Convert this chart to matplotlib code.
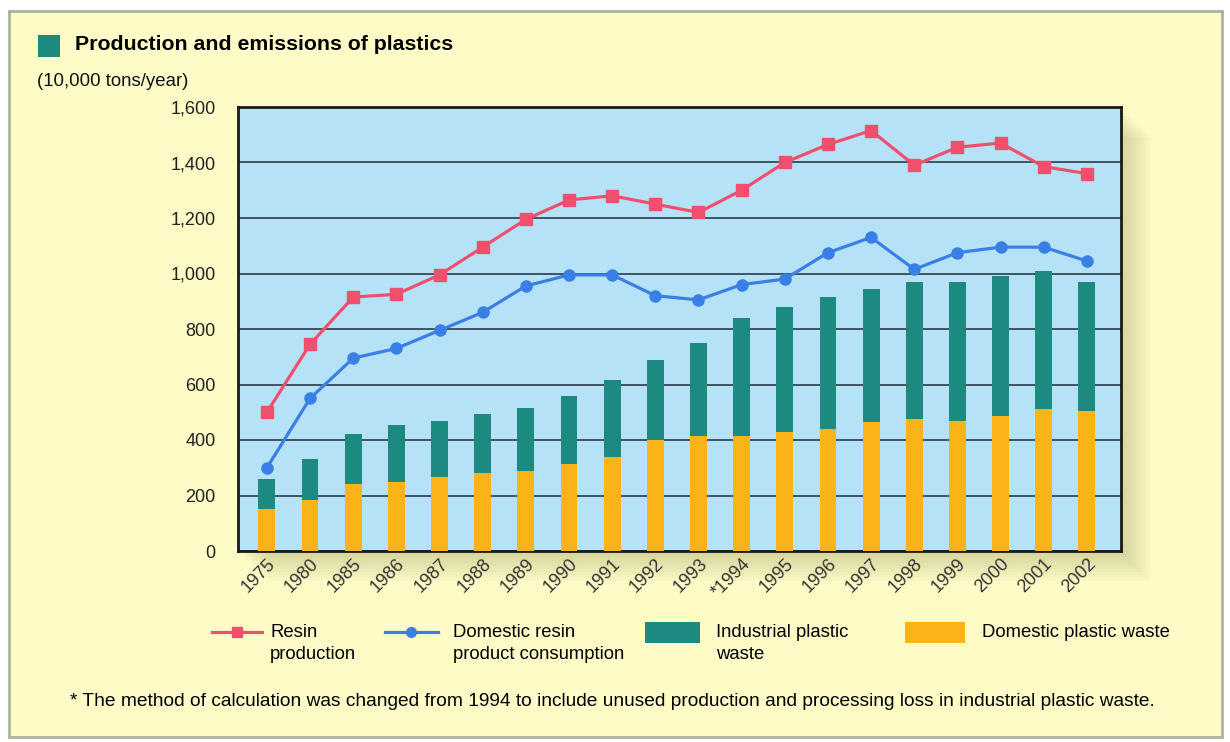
import matplotlib
matplotlib.use("Agg")
import matplotlib.pyplot as plt
from matplotlib.patches import Rectangle
from matplotlib.lines import Line2D

plt.rcParams["font.family"] = ["Liberation Sans", "DejaVu Sans"]

years = ["1975", "1980", "1985", "1986", "1987", "1988", "1989", "1990", "1991",
         "1992", "1993", "*1994", "1995", "1996", "1997", "1998", "1999", "2000",
         "2001", "2002"]
resin_production = [500, 745, 915, 925, 995, 1095, 1195, 1265, 1280, 1250, 1220,
                    1300, 1400, 1465, 1515, 1390, 1455, 1470, 1385, 1360]
domestic_consumption = [300, 550, 695, 730, 795, 860, 955, 995, 995, 920, 905,
                        960, 980, 1075, 1130, 1015, 1075, 1095, 1095, 1045]
domestic_waste = [150, 185, 240, 250, 265, 280, 290, 315, 340, 400, 415, 415,
                  430, 440, 465, 475, 470, 485, 510, 505]
total_waste = [260, 330, 420, 455, 470, 495, 515, 560, 615, 690, 750, 840,
               880, 915, 945, 970, 970, 990, 1010, 970]
industrial_waste = [t - d for t, d in zip(total_waste, domestic_waste)]
yticks = [0, 200, 400, 600, 800, 1000, 1200, 1400, 1600]

PAGE = "#fefbc6"
BORDER = "#a9b49c"
AX_BG = "#b6e2f7"
TEAL = "#1d8a80"
ORANGE = "#fbb418"
PINK = "#f0506e"
BLUE = "#3a7fe6"
GRID = "#2b3a48"

W, H = 1230, 742


def fx(x):
    return x / W


def fy(y):
    return 1 - y / H


fig = plt.figure(figsize=(12.3, 7.42), dpi=100)
fig.patch.set_facecolor("white")

# page panel with thin border
fig.add_artist(Rectangle((fx(9), fy(737)), fx(1222) - fx(9), fy(11) - fy(737),
                         transform=fig.transFigure, facecolor=PAGE,
                         edgecolor=BORDER, linewidth=2, zorder=-2))

# soft shadow right/bottom of the plot box (kept below the axes)
for i in range(10):
    off = 3 * (i + 1)
    fig.add_artist(Rectangle((fx(238 + off), fy(551 + off)), fx(883), 444 / H,
                             transform=fig.transFigure, facecolor="#8a8a50",
                             edgecolor="none", alpha=0.035, zorder=-1))

ax = fig.add_axes([fx(238), fy(551), fx(1121) - fx(238), (551 - 107) / H])
ax.set_zorder(1)
ax.set_facecolor(AX_BG)
x = list(range(len(years)))

ax.bar(x, domestic_waste, width=0.39, color=ORANGE, zorder=3)
ax.bar(x, industrial_waste, width=0.39, bottom=domestic_waste, color=TEAL, zorder=3)
ax.plot(x, resin_production, color=PINK, lw=2.3, marker="s", ms=8, zorder=4)
ax.plot(x, domestic_consumption, color=BLUE, lw=2.3, marker="o", ms=8, zorder=4)

ax.set_xlim(-0.67, 19.79)
ax.set_ylim(0, 1600)
ax.set_yticks(yticks)
ax.set_yticklabels([f"{v:,}" for v in yticks], fontsize=13, color="#222222")
ax.set_xticks(x)
ax.set_xticklabels(years, rotation=45, ha="right", rotation_mode="anchor",
                   fontsize=13, color="#333333")
ax.tick_params(length=0)
ax.tick_params(axis="y", pad=16)
ax.tick_params(axis="x", pad=3)
ax.grid(axis="y", color=GRID, lw=1.2, zorder=1)
for s in ax.spines.values():
    s.set_linewidth(2)
    s.set_color("#1a1a1a")

# title and unit
fig.add_artist(Rectangle((fx(38), fy(57)), fx(22), 22 / H,
                         transform=fig.transFigure, facecolor=TEAL,
                         edgecolor="none"))
fig.text(fx(75), fy(45), "Production and emissions of plastics",
         fontsize=15.3, fontweight="bold", va="center", ha="left")
fig.text(fx(37), fy(81), "(10,000 tons/year)", fontsize=13.4, va="center",
         ha="left", color="#111111")

# legend drawn by hand
fig.add_artist(Line2D([fx(212), fx(237), fx(262)], [fy(632)] * 3, color=PINK,
                      lw=2.3, marker="s", ms=7, markevery=[1],
                      transform=fig.transFigure))
fig.add_artist(Line2D([fx(385), fx(411), fx(438)], [fy(632)] * 3, color=BLUE,
                      lw=2.3, marker="o", ms=7, markevery=[1],
                      transform=fig.transFigure))
fig.add_artist(Rectangle((fx(645), fy(643)), fx(55), 21 / H,
                         transform=fig.transFigure, facecolor=TEAL,
                         edgecolor="none"))
fig.add_artist(Rectangle((fx(905), fy(643)), fx(60), 21 / H,
                         transform=fig.transFigure, facecolor=ORANGE,
                         edgecolor="none"))
leg_kw = dict(fontsize=13.3, va="top", ha="left", linespacing=1.35)
fig.text(fx(270), fy(624), "Resin\nproduction", **leg_kw)
fig.text(fx(453), fy(624), "Domestic resin\nproduct consumption", **leg_kw)
fig.text(fx(716), fy(624), "Industrial plastic\nwaste", **leg_kw)
fig.text(fx(982), fy(624), "Domestic plastic waste", **leg_kw)

fig.text(fx(70), fy(701),
         "* The method of calculation was changed from 1994 to include unused "
         "production and processing loss in industrial plastic waste.",
         fontsize=13.8, va="center", ha="left")

fig.savefig("out.png", dpi=100, facecolor="white")
